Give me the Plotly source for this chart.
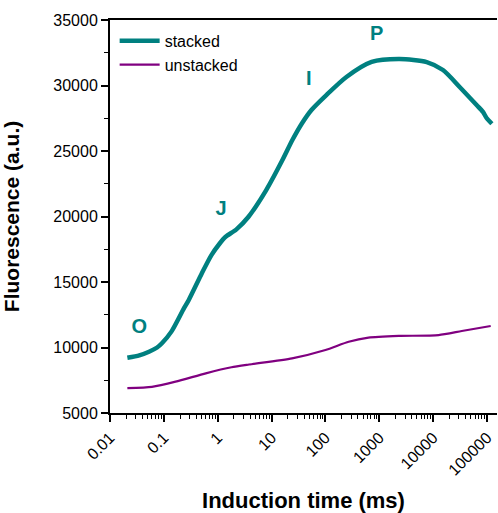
import plotly.graph_objects as go

# stacked curve (time in ms, fluorescence a.u.)
stacked_t = [0.021, 0.035, 0.053, 0.075, 0.092, 0.14, 0.238, 0.29, 0.51, 0.75, 1.07, 1.4, 2.2,
             3.7, 7.9, 15.9, 24.3, 37, 55, 104, 245, 720, 2380, 7600, 15200, 31000, 64000,
             84000, 98000, 123000]
stacked_f = [9220, 9400, 9680, 10000, 10320, 11250, 13020, 13630, 15690, 17000, 17900, 18450,
             19000, 19960, 22000, 24310, 25840, 27140, 28130, 29270, 30650, 31800, 32020, 31790,
             31180, 29890, 28510, 27980, 27520, 27080]

# unstacked curve
unstacked_t = [0.021, 0.06, 0.165, 0.6, 1.8, 3.8, 24, 100, 270, 630, 2300, 12600, 34000, 117000]
unstacked_f = [6900, 7000, 7390, 8030, 8490, 8700, 9170, 9810, 10440, 10750, 10880, 10950, 11260, 11640]

# OJIP labels
label_text = ["O", "J", "I", "P"]
label_t = [0.035, 1.15, 49, 890]
label_f = [11490, 20500, 30420, 33850]

x_tickvals = [0.01, 0.1, 1, 10, 100, 1000, 10000, 100000]
x_ticktext = ["0.01", "0.1", "1", "10", "100", "1000", "10000", "100000"]
y_tickvals = [5000, 10000, 15000, 20000, 25000, 30000, 35000]
y_ticktext = ["5000", "10000", "15000", "20000", "25000", "30000", "35000"]

teal = "#008080"
purple = "#800080"

fig = go.Figure()
fig.add_trace(go.Scatter(x=stacked_t, y=stacked_f, mode="lines", name="stacked",
                         line=dict(color=teal, width=4.5, shape="spline", smoothing=0.7)))
fig.add_trace(go.Scatter(x=unstacked_t, y=unstacked_f, mode="lines", name="unstacked",
                         line=dict(color=purple, width=2.2, shape="spline", smoothing=0.6)))
fig.add_trace(go.Scatter(x=label_t, y=label_f, mode="text", text=label_text, showlegend=False,
                         textfont=dict(family="Liberation Sans", size=20, color=teal, weight="bold")))

fig.update_layout(
    width=498, height=513,
    margin=dict(l=110, r=1, t=20, b=100),
    paper_bgcolor="white", plot_bgcolor="white",
    font=dict(family="Liberation Sans", color="black", size=16),
    legend=dict(x=0.012, y=0.99, xanchor="left", yanchor="top", bgcolor="rgba(0,0,0,0)",
                font=dict(size=16), tracegroupgap=0, itemwidth=40),
    showlegend=True,
)
fig.update_xaxes(
    type="log", range=[-2, 5.185], automargin=False,
    tickvals=x_tickvals, ticktext=x_ticktext, tickangle=-45,
    ticks="outside", ticklen=7, tickwidth=1.5, tickcolor="black",
    minor=dict(ticks="outside", ticklen=4, tickwidth=1, tickcolor="black", dtick="D1"),
    showline=True, linecolor="black", linewidth=2, mirror=True,
    showgrid=False, zeroline=False,
    title=dict(text="<b>Induction time (ms)</b>", font=dict(size=22), standoff=22),
    tickfont=dict(size=16),
)
fig.update_yaxes(
    range=[5000, 35000], tickvals=y_tickvals, ticktext=y_ticktext, automargin=False,
    ticks="outside", ticklen=7, tickwidth=1.5, tickcolor="black",
    minor=dict(ticks="outside", ticklen=4, tickwidth=1, tickcolor="black", dtick=2500),
    showline=True, linecolor="black", linewidth=2, mirror=False,
    showgrid=False, zeroline=False,
    title=dict(text="<b>Fluorescence (a.u.)</b>", font=dict(size=21), standoff=28),
    tickfont=dict(size=16),
)
fig.write_html("out.html")
